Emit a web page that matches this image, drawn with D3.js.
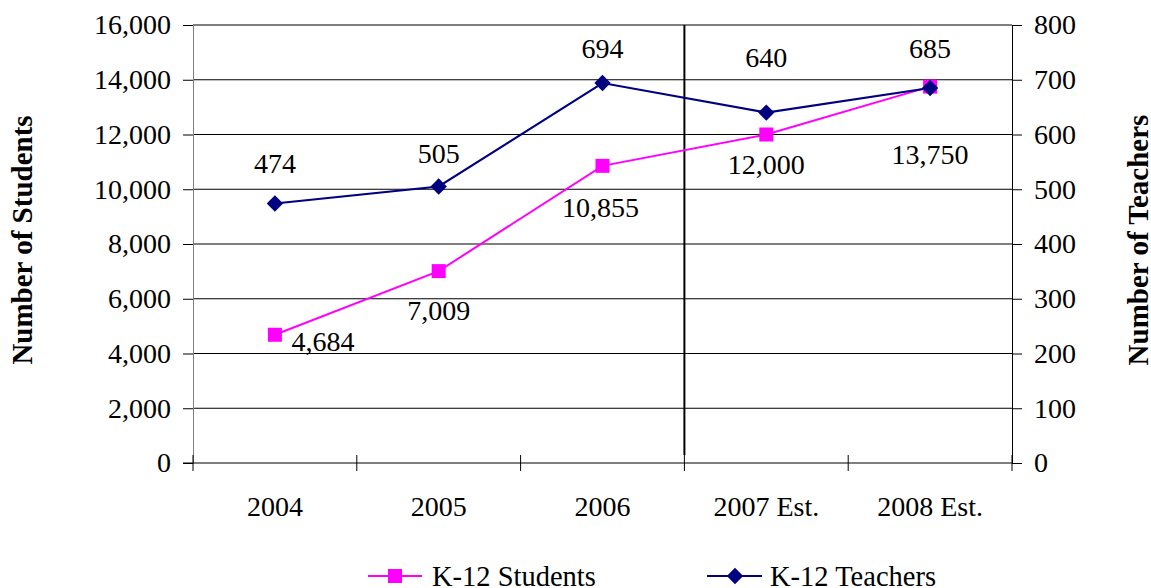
<!DOCTYPE html>
<html>
<head>
<meta charset="utf-8">
<script src="https://cdn.jsdelivr.net/npm/d3@7"></script>
<style>
  body { margin: 0; background: #fff; }
  svg text { font-family: "Times New Roman", "Liberation Serif", Times, serif; }
</style>
</head>
<body>
<div id="chart"></div>
<script>
// chart values
const categories = ["2004", "2005", "2006", "2007 Est.", "2008 Est."];
const students = [4684, 7009, 10855, 12000, 13750];
const teachers = [474, 505, 694, 640, 685];
const studentTicks = [0, 2000, 4000, 6000, 8000, 10000, 12000, 14000, 16000];
const teacherTicks = [0, 100, 200, 300, 400, 500, 600, 700, 800];

// label nudges (pixels), kept apart from the data
const teacherLabelDy = [-40, -33, -35, -55, -40];
const studentLabelDx = [48, 0, -2, 0, 0];
const studentLabelDy = [6, 39, 41, 30, 68];

const width = 1151;
const height = 588;
const margin = { top: 25, bottom: 125, left: 193, right: 139 };
const serif = '"Times New Roman", "Liberation Serif", Times, serif';
const fs = "28px";

const svg = d3.select("#chart")
    .append("svg")
    .attr("width", width)
    .attr("height", height)
    .attr("font-family", serif);

const x = d3.scaleBand()
    .domain(categories)
    .range([margin.left, width - margin.right]);

const yL = d3.scaleLinear()
    .domain([0, 16000])
    .range([height - margin.bottom, margin.top]);

const yR = d3.scaleLinear()
    .domain([0, 800])
    .range([height - margin.bottom, margin.top]);

const cx = d => x(d) + x.bandwidth() / 2;

// gridlines
svg.append("g")
    .selectAll("line")
    .data(studentTicks.slice(1))
    .join("line")
    .attr("x1", margin.left)
    .attr("x2", width - margin.right)
    .attr("y1", d => yL(d))
    .attr("y2", d => yL(d))
    .attr("stroke", "#000")
    .attr("stroke-width", 1);

// divider between actual and estimate
svg.append("line")
    .attr("x1", x("2007 Est."))
    .attr("x2", x("2007 Est."))
    .attr("y1", margin.top)
    .attr("y2", height - margin.bottom - 8)
    .attr("stroke", "#000")
    .attr("stroke-width", 2);

// left axis
const leftAxis = svg.append("g")
    .attr("transform", `translate(${margin.left},0)`)
    .call(d3.axisLeft(yL).tickValues(studentTicks).tickFormat(d3.format(",")).tickSize(10).tickPadding(12))
    .attr("font-family", serif);
leftAxis.select(".domain").attr("stroke", "#808080");
leftAxis.selectAll(".tick line").attr("stroke", "#000");
leftAxis.selectAll("text").attr("font-size", fs).attr("fill", "#000");

// right axis
const rightAxis = svg.append("g")
    .attr("transform", `translate(${width - margin.right},0)`)
    .call(d3.axisRight(yR).tickValues(teacherTicks).tickSize(10).tickPadding(12))
    .attr("font-family", serif);
rightAxis.select(".domain").attr("stroke", "#000");
rightAxis.selectAll("text").attr("font-size", fs).attr("fill", "#000");

// bottom axis
const bottom = svg.append("g")
    .attr("transform", `translate(0,${height - margin.bottom})`);
bottom.append("line")
    .attr("x1", margin.left - 10)
    .attr("x2", width - margin.right)
    .attr("stroke", "#000");
bottom.selectAll(".sep")
    .data(categories.concat(["end"]))
    .join("line")
    .attr("class", "sep")
    .attr("x1", (d, i) => i < categories.length ? x(d) : x.range()[1])
    .attr("x2", (d, i) => i < categories.length ? x(d) : x.range()[1])
    .attr("y1", -8)
    .attr("y2", 8)
    .attr("stroke", "#000");
bottom.selectAll(".lbl")
    .data(categories)
    .join("text")
    .attr("class", "lbl")
    .attr("x", d => cx(d))
    .attr("y", 53)
    .attr("text-anchor", "middle")
    .attr("font-size", fs)
    .text(d => d);

// lines
const lineS = d3.line().x((d, i) => cx(categories[i])).y(d => yL(d));
const lineT = d3.line().x((d, i) => cx(categories[i])).y(d => yR(d));

svg.append("path")
    .datum(students)
    .attr("d", lineS)
    .attr("fill", "none")
    .attr("stroke", "#ff00ff")
    .attr("stroke-width", 2);

svg.append("path")
    .datum(teachers)
    .attr("d", lineT)
    .attr("fill", "none")
    .attr("stroke", "#000080")
    .attr("stroke-width", 2.2);

svg.append("g")
    .selectAll("rect")
    .data(students)
    .join("rect")
    .attr("x", (d, i) => cx(categories[i]) - 7)
    .attr("y", d => yL(d) - 7)
    .attr("width", 14)
    .attr("height", 14)
    .attr("fill", "#ff00ff");

const diamond = d3.symbol().type(d3.symbolDiamond2).size(170);
svg.append("g")
    .selectAll("path")
    .data(teachers)
    .join("path")
    .attr("d", diamond)
    .attr("transform", (d, i) => `translate(${cx(categories[i])},${yR(d)})`)
    .attr("fill", "#000080");

// data labels
svg.append("g")
    .selectAll("text")
    .data(teachers)
    .join("text")
    .attr("x", (d, i) => cx(categories[i]))
    .attr("y", (d, i) => yR(d) + teacherLabelDy[i])
    .attr("dy", "0.35em")
    .attr("text-anchor", "middle")
    .attr("font-size", fs)
    .text(d => d);

svg.append("g")
    .selectAll("text")
    .data(students)
    .join("text")
    .attr("x", (d, i) => cx(categories[i]) + studentLabelDx[i])
    .attr("y", (d, i) => yL(d) + studentLabelDy[i])
    .attr("dy", "0.35em")
    .attr("text-anchor", "middle")
    .attr("font-size", fs)
    .text(d => d3.format(",")(d));

// axis titles
svg.append("text")
    .attr("transform", "translate(32,240) rotate(-90)")
    .attr("text-anchor", "middle")
    .attr("font-size", "29px")
    .attr("font-weight", "bold")
    .text("Number of Students");

svg.append("text")
    .attr("transform", "translate(1148,240) rotate(-90)")
    .attr("text-anchor", "middle")
    .attr("font-size", "29px")
    .attr("font-weight", "bold")
    .text("Number of Teachers");

// legend
const legend = svg.append("g").attr("transform", "translate(0,576)");
legend.append("line").attr("x1", 368).attr("x2", 422).attr("stroke", "#ff00ff").attr("stroke-width", 2);
legend.append("rect").attr("x", 388).attr("y", -7).attr("width", 14).attr("height", 14).attr("fill", "#ff00ff");
legend.append("text").attr("x", 432).attr("dy", "0.35em").attr("font-size", "28.5px").text("K-12 Students");
legend.append("line").attr("x1", 707).attr("x2", 762).attr("stroke", "#000080").attr("stroke-width", 2.2);
legend.append("path").attr("d", diamond).attr("transform", "translate(735,0)").attr("fill", "#000080");
legend.append("text").attr("x", 770).attr("dy", "0.35em").attr("font-size", "28.5px").text("K-12 Teachers");
</script>
</body>
</html>
